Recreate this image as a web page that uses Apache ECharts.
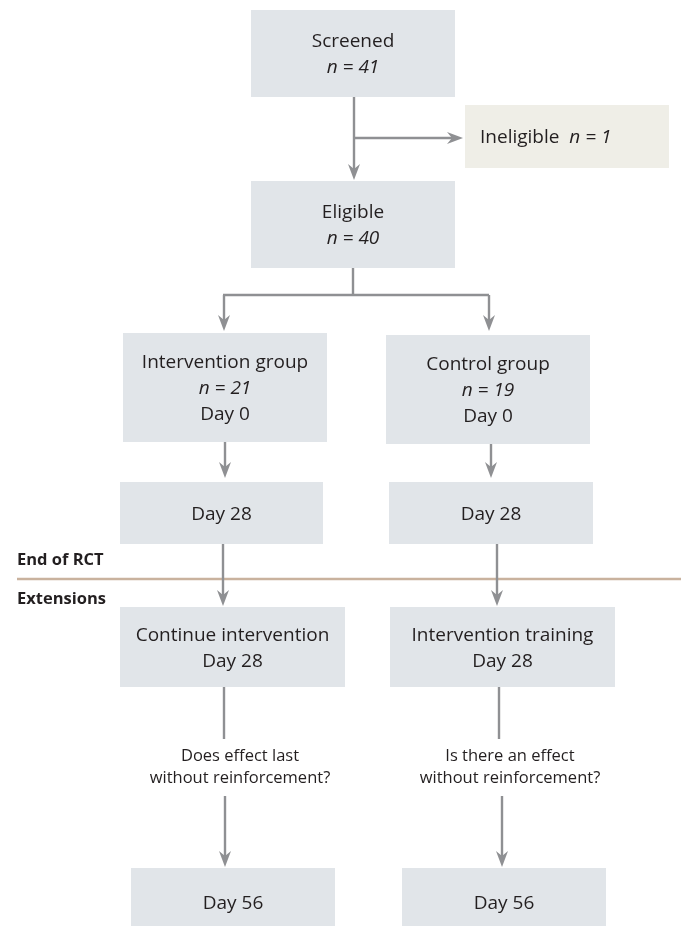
<!DOCTYPE html>
<html>
<head>
<meta charset="utf-8">
<script src="https://cdn.jsdelivr.net/npm/echarts@6/dist/echarts.min.js"></script>
<style>
html,body{margin:0;padding:0;background:#fff;}
#chart{width:681px;height:926px;}
</style>
</head>
<body>
<div id="chart"></div>
<script>
// ---- content ----
const boxNames = ['Screened', 'Ineligible', 'Eligible', 'Intervention group', 'Control group',
  'Day 28', 'Day 28', 'Continue intervention', 'Intervention training', 'Day 56', 'Day 56'];
const boxCounts = [41, 1, 40, 21, 19, null, null, null, null, null, null];
const boxDays = [null, null, null, 'Day 0', 'Day 0', null, null, 'Day 28', 'Day 28', null, null];
const questionTexts = ['Does effect last\nwithout reinforcement?', 'Is there an effect\nwithout reinforcement?'];
const sectionLabels = ['End of RCT', 'Extensions'];

// ---- layout (diagram units = pixels) ----
const boxX0 = [251, 465, 251, 123, 386, 120, 389, 120, 390, 131, 402];
const boxY0 = [10, 105, 181, 333, 335, 482, 482, 607, 607, 868, 868];
const boxX1 = [455, 669, 455, 327, 590, 323, 593, 345, 615, 335, 606];
const boxY1 = [97, 168, 268, 442, 444, 544, 544, 687, 687, 936, 936];
const boxInline = [false, true, false, false, false, false, false, false, false, false, false];
const boxFill = ['#E1E5E9', '#EFEEE7', '#E1E5E9', '#E1E5E9', '#E1E5E9', '#E1E5E9', '#E1E5E9',
  '#E1E5E9', '#E1E5E9', '#E1E5E9', '#E1E5E9'];

const arrowPaths = [
  [[354, 97], [354, 180]],
  [[354, 138], [463, 138]],
  [[353, 268], [353, 295]],
  [[223, 295], [489, 295]],
  [[224, 295], [224, 331]],
  [[489, 295], [489, 331]],
  [[225, 442], [225, 478]],
  [[491, 444], [491, 478]],
  [[223, 544], [223, 606]],
  [[497, 544], [497, 606]],
  [[224, 687], [224, 739]],
  [[499, 687], [499, 739]],
  [[225, 796], [225, 867]],
  [[502, 796], [502, 867]]
];
const arrowHeads = [true, true, false, false, true, true, true, true, true, true, false, false, true, true];

const questionX = [240, 510];
const questionY = [767, 767];
const sectionX = [17, 17];
const sectionY = [560, 599];
const dividerY = 579;
const dividerX0 = 17, dividerX1 = 681;

const FONT = 'Open Sans';
const TEXT_COLOR = '#231F20';
const ARROW_COLOR = '#8F9093';

function boxText(i) {
  const lines = [boxNames[i]];
  if (boxInline[i]) {
    return boxNames[i] + '  {i|n = ' + boxCounts[i] + '}';
  }
  if (boxCounts[i] !== null) lines.push('{i|n = ' + boxCounts[i] + '}');
  if (boxDays[i] !== null) lines.push(boxDays[i]);
  return lines.join('\n');
}

const chart = echarts.init(document.getElementById('chart'), null, {renderer: 'canvas'});

const option = {
  animation: false,
  backgroundColor: '#ffffff',
  grid: {left: 0, right: 0, top: 0, bottom: 0},
  xAxis: {type: 'value', min: 0, max: 681, show: false},
  yAxis: {type: 'value', min: 0, max: 926, inverse: true, show: false},
  series: [
    {
      type: 'custom',
      name: 'divider',
      data: [[dividerX0, dividerY, dividerX1]],
      z: 1,
      renderItem: function (params, api) {
        const a = api.coord([api.value(0), api.value(1)]);
        const b = api.coord([api.value(2), api.value(1)]);
        return {type: 'line', shape: {x1: a[0], y1: a[1], x2: b[0], y2: b[1]},
          style: {stroke: '#C9B29E', lineWidth: 2.5}};
      }
    },
    {
      type: 'custom',
      name: 'boxes',
      z: 2,
      data: boxNames.map((n, i) => [i]),
      renderItem: function (params, api) {
        const i = api.value(0);
        const p0 = api.coord([boxX0[i], boxY0[i]]);
        const p1 = api.coord([boxX1[i], boxY1[i]]);
        const inline = boxInline[i];
        return {
          type: 'group',
          children: [
            {type: 'rect', shape: {x: p0[0], y: p0[1], width: p1[0] - p0[0], height: p1[1] - p0[1]},
              style: {fill: boxFill[i]}},
            {type: 'text',
              x: inline ? p0[0] + 15 : (p0[0] + p1[0]) / 2,
              y: (p0[1] + p1[1]) / 2 + 1.5,
              style: {
                text: boxText(i),
                align: inline ? 'left' : 'center',
                verticalAlign: 'middle',
                fontFamily: FONT, fontSize: 19, lineHeight: 26, fill: TEXT_COLOR,
                rich: {i: {fontStyle: 'italic', fontFamily: FONT, fontSize: 19, lineHeight: 26, fill: TEXT_COLOR}}
              }}
          ]
        };
      }
    },
    {
      type: 'custom',
      name: 'arrows',
      z: 3,
      data: arrowPaths.map((p, i) => [i]),
      renderItem: function (params, api) {
        const i = api.value(0);
        const pts = arrowPaths[i].map(p => api.coord(p));
        const children = [];
        const a = pts[0], b = pts[pts.length - 1];
        const dx = b[0] - a[0], dy = b[1] - a[1];
        const len = Math.sqrt(dx * dx + dy * dy);
        const ux = dx / len, uy = dy / len, nx = -uy, ny = ux;
        let end = b;
        if (arrowHeads[i]) {
          const L = 16, W = 6, N = 11;
          end = [b[0] - ux * N, b[1] - uy * N];
          children.push({type: 'polygon', shape: {points: [
            b,
            [b[0] - ux * L + nx * W, b[1] - uy * L + ny * W],
            [b[0] - ux * N, b[1] - uy * N],
            [b[0] - ux * L - nx * W, b[1] - uy * L - ny * W]
          ]}, style: {fill: ARROW_COLOR}});
        }
        children.unshift({type: 'line', shape: {x1: a[0], y1: a[1], x2: end[0], y2: end[1]},
          style: {stroke: ARROW_COLOR, lineWidth: 2.4}});
        return {type: 'group', children: children};
      }
    },
    {
      type: 'custom',
      name: 'questions',
      z: 3,
      data: questionTexts.map((t, i) => [questionX[i], questionY[i], i]),
      renderItem: function (params, api) {
        const p = api.coord([api.value(0), api.value(1)]);
        return {type: 'text', x: p[0], y: p[1], style: {
          text: questionTexts[api.value(2)], align: 'center', verticalAlign: 'middle',
          fontFamily: FONT, fontSize: 16.5, lineHeight: 22, fill: TEXT_COLOR}};
      }
    },
    {
      type: 'custom',
      name: 'sections',
      z: 3,
      data: sectionLabels.map((t, i) => [sectionX[i], sectionY[i], i]),
      renderItem: function (params, api) {
        const p = api.coord([api.value(0), api.value(1)]);
        return {type: 'text', x: p[0], y: p[1], style: {
          text: sectionLabels[api.value(2)], align: 'left', verticalAlign: 'middle',
          fontFamily: FONT, fontWeight: 'bold', fontSize: 16.5, fill: TEXT_COLOR}};
      }
    }
  ]
};
chart.setOption(option);
</script>
</body>
</html>
